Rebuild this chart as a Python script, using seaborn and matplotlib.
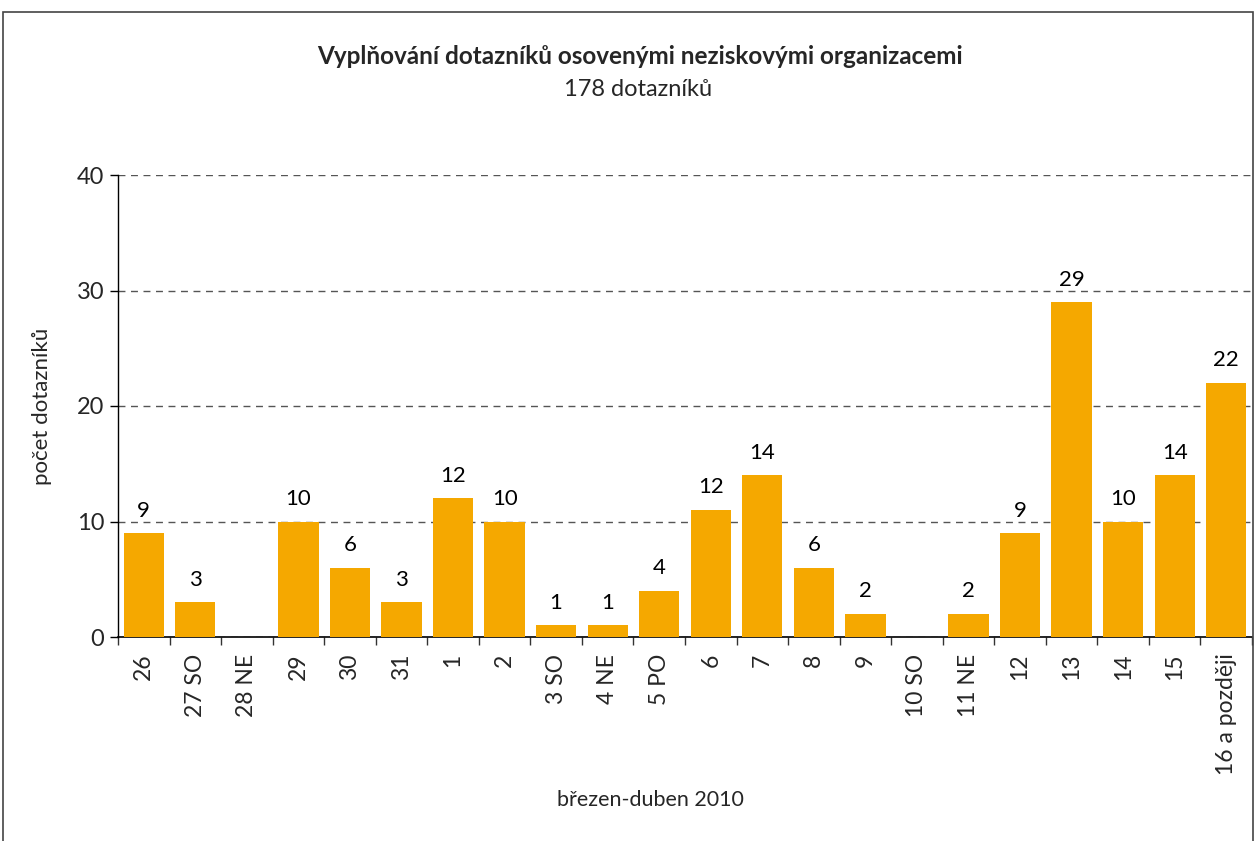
import numpy as np
import pandas as pd
import matplotlib
matplotlib.use("Agg")
import matplotlib.pyplot as plt
import seaborn as sns
from matplotlib.patches import Rectangle

days = ["26", "27 SO", "28 NE", "29", "30", "31", "1", "2", "3 SO", "4 NE", "5 PO",
        "6", "7", "8", "9", "10 SO", "11 NE", "12", "13", "14", "15", "16 a později"]
heights = [9, 3, 0, 10, 6, 3, 12, 10, 1, 1, 4, 11, 14, 6, 2, 0, 2, 9, 29, 10, 14, 22]
labels = ["9", "3", "", "10", "6", "3", "12", "10", "1", "1", "4",
          "12", "14", "6", "2", "", "2", "9", "29", "10", "14", "22"]
yticks = [0, 10, 20, 30, 40]

sns.set_theme(style="white")
plt.rcParams['font.family'] = ['Lato', 'DejaVu Sans']

df = pd.DataFrame({"den": days, "pocet": heights})

fig = plt.figure(figsize=(12.57, 8.41), dpi=100)
ax = fig.add_axes([118 / 1257, 1 - 637 / 841, (1252 - 118) / 1257, (637 - 175) / 841])

sns.barplot(data=df, x="den", y="pocet", color="#F5A800", saturation=1,
            width=0.78, linewidth=0, ax=ax, zorder=3)

for i, (h, lab) in enumerate(zip(heights, labels)):
    if lab:
        ax.annotate(lab, (i, h), xytext=(0, 9), textcoords="offset points",
                    ha="center", va="bottom", fontsize=16, color="black")

ax.set_ylim(0, 40)
ax.set_xlim(-0.5, len(days) - 0.5)
ax.set_yticks(yticks)
ax.set_yticklabels([str(t) for t in yticks], fontsize=17)
ax.yaxis.grid(True, linestyle=(0, (5, 4)), color="#555555", linewidth=1, zorder=0)
ax.tick_params(axis="y", direction="out", length=6, width=1, color="black", left=True, pad=4)

ax.set_xticks(range(len(days)))
ax.set_xticklabels(days, rotation=90, fontsize=16.5, va="top")
ax.set_xticks(np.arange(-0.5, len(days), 1), minor=True)
ax.tick_params(axis="x", which="major", length=0, pad=12)
ax.tick_params(axis="x", which="minor", direction="out", length=6, width=1, color="#333333", bottom=True)

for s in ["top", "right"]:
    ax.spines[s].set_visible(False)
ax.spines["left"].set_color("black")
ax.spines["bottom"].set_color("black")
ax.spines["left"].set_linewidth(1)
ax.spines["bottom"].set_linewidth(1.2)

ax.set_xlabel("")
ax.set_ylabel("")
fig.text(42 / 1257, 1 - 406 / 841, "počet dotazníků", rotation=90, ha="center", va="center", fontsize=16)
fig.text(650 / 1257, 1 - 800 / 841, "březen-duben 2010", ha="center", va="center", fontsize=15.5)
fig.text(640 / 1257, 1 - 57 / 841, "Vyplňování dotazníků osovenými neziskovými organizacemi",
         ha="center", va="center", fontsize=17.5, fontweight="bold")
fig.text(638 / 1257, 1 - 90 / 841, "178 dotazníků", ha="center", va="center", fontsize=17)

fig.patches.append(Rectangle((3 / 1257, -0.01), 1250 / 1257, 1 - 12 / 841 + 0.01,
                             transform=fig.transFigure, fill=False,
                             edgecolor="#444444", linewidth=1.2))

fig.savefig("out.png", dpi=100)
